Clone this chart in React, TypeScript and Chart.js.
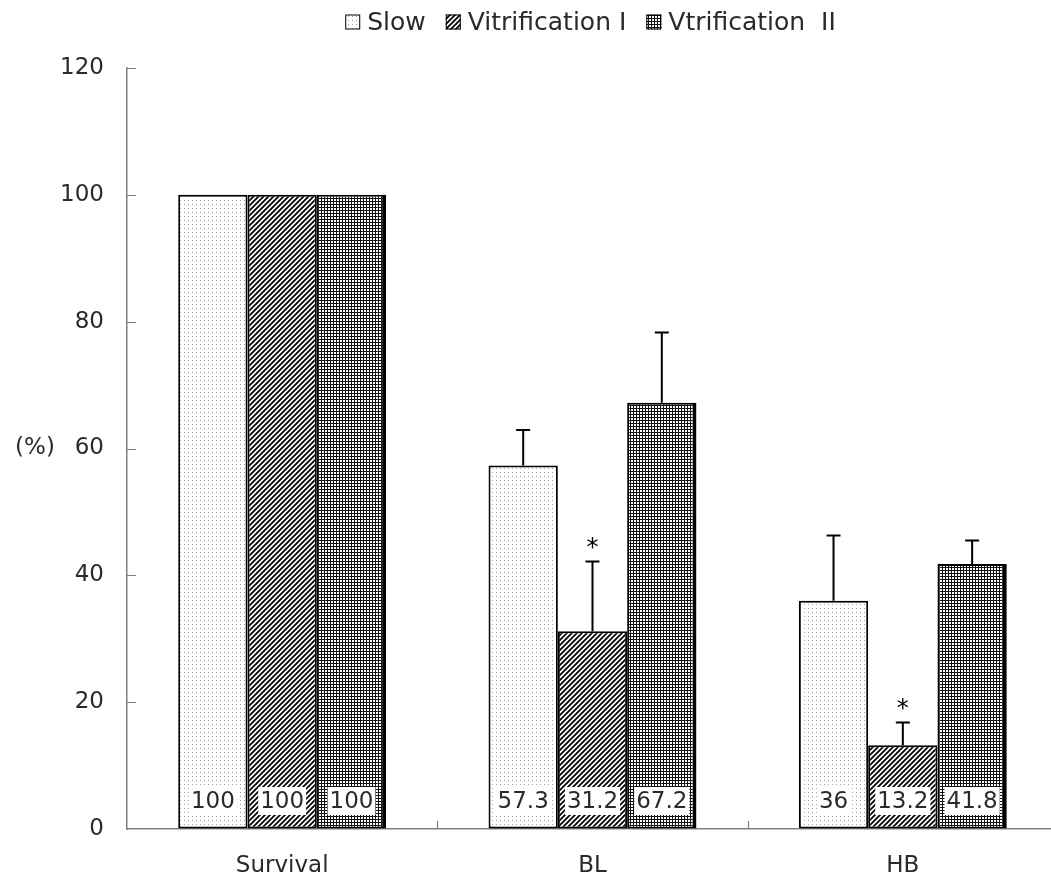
import React, { useEffect, useRef } from "react";
import { Chart, registerables } from "chart.js";

Chart.register(...registerables);

const categories = ["Survival", "BL", "HB"];
const seriesNames = ["Slow", "Vitrification I", "Vtrification  II"];
const slowValues = [100, 57.3, 36];
const vit1Values = [100, 31.2, 13.2];
const vit2Values = [100, 67.2, 41.8];
const slowErr = [0, 5.6, 10.3];
const vit1Err = [0, 11.0, 3.6];
const vit2Err = [0, 11.1, 3.7];
const vit1Sig = ["", "*", "*"];
const yMin = 0;
const yMax = 120;
const yStep = 20;
const yTitle = "(%)";

const FONT = "'DejaVu Sans', sans-serif";
const TEXT = "#2a2a2a";
const AXIS = "#808080";

function makeTile(size: number, draw: (c: CanvasRenderingContext2D) => void): CanvasPattern {
  const cv = document.createElement("canvas");
  cv.width = size;
  cv.height = size;
  const c = cv.getContext("2d")!;
  c.fillStyle = "#fff";
  c.fillRect(0, 0, size, size);
  draw(c);
  return c.createPattern(cv, "repeat")!;
}

export default function App() {
  const ref = useRef<HTMLCanvasElement | null>(null);
  useEffect(() => {
    const canvas = ref.current!;
    const dots = makeTile(4, (c) => {
      c.fillStyle = "#a0a0a0";
      c.fillRect(0, 0, 1, 1);
    });
    const diag = makeTile(5, (c) => {
      c.strokeStyle = "#000";
      c.lineWidth = 1.8;
      c.beginPath();
      c.moveTo(-1, 6); c.lineTo(6, -1);
      c.moveTo(-6, 6); c.lineTo(1, -1);
      c.moveTo(4, 6); c.lineTo(11, -1);
      c.stroke();
    });
    const grid = makeTile(3, (c) => {
      c.fillStyle = "#111";
      c.fillRect(0, 0, 3, 1);
      c.fillRect(0, 0, 1, 3);
    });
    const patterns = [dots, diag, grid];
    const errs = [slowErr, vit1Err, vit2Err];
    const sigs = [["", "", ""], vit1Sig, ["", "", ""]];

    const overlay = {
      id: "overlay",
      afterDatasetsDraw(chart: any) {
        const ctx: CanvasRenderingContext2D = chart.ctx;
        const ys = chart.scales.y;
        const bottom = chart.chartArea.bottom;
        ctx.save();
        chart.data.datasets.forEach((ds: any, i: number) => {
          const meta = chart.getDatasetMeta(i);
          meta.data.forEach((bar: any, j: number) => {
            const v = ds.data[j];
            const e = errs[i][j];
            ctx.strokeStyle = "#000";
            ctx.lineWidth = 2;
            let topY = bar.y;
            if (e > 0) {
              const t = ys.getPixelForValue(v + e);
              topY = t;
              ctx.beginPath();
              ctx.moveTo(bar.x, bar.y);
              ctx.lineTo(bar.x, t);
              ctx.moveTo(bar.x - 7, t);
              ctx.lineTo(bar.x + 7, t);
              ctx.stroke();
            }
            const s = sigs[i][j];
            if (s) {
              ctx.fillStyle = "#000";
              ctx.font = `24px ${FONT}`;
              ctx.textAlign = "center";
              ctx.textBaseline = "middle";
              ctx.fillText(s, bar.x, topY - 13);
            }
            const label = String(v);
            ctx.font = `23px ${FONT}`;
            const w = ctx.measureText(label).width;
            const cy = bottom - 28;
            ctx.fillStyle = "#fff";
            ctx.fillRect(bar.x - w / 2 - 2, cy - 14, w + 4, 28);
            ctx.fillStyle = TEXT;
            ctx.textAlign = "center";
            ctx.textBaseline = "middle";
            ctx.fillText(label, bar.x, cy + 1);
          });
        });
        ctx.restore();
      },
      afterDraw(chart: any) {
        const ctx: CanvasRenderingContext2D = chart.ctx;
        const area = chart.chartArea;
        const ys = chart.scales.y;
        const xs = chart.scales.x;
        ctx.save();
        ctx.strokeStyle = AXIS;
        ctx.lineWidth = 1.2;
        ctx.beginPath();
        for (let v = yMin + yStep; v <= yMax; v += yStep) {
          const py = Math.round(ys.getPixelForValue(v)) + 0.5;
          ctx.moveTo(area.left, py);
          ctx.lineTo(area.left + 9, py);
        }
        const n = categories.length;
        for (let k = 1; k < n; k++) {
          const px = Math.round((xs.getPixelForValue(k - 1) + xs.getPixelForValue(k)) / 2) + 0.5;
          ctx.moveTo(px, area.bottom);
          ctx.lineTo(px, area.bottom - 8);
        }
        ctx.stroke();
        ctx.fillStyle = TEXT;
        ctx.font = `23px ${FONT}`;
        ctx.textAlign = "center";
        ctx.textBaseline = "middle";
        ctx.fillText(yTitle, 35, (area.top + area.bottom) / 2);
        ctx.font = `25px ${FONT}`;
        const box = 15;
        const gapBox = 7;
        const gapItem = 20;
        const widths = seriesNames.map((s) => ctx.measureText(s).width);
        let total = 0;
        widths.forEach((w, i) => {
          total += box + gapBox + w + (i < widths.length - 1 ? gapItem : 0);
        });
        let lx = (area.left + area.right) / 2 - 2 - total / 2;
        const ly = 22;
        seriesNames.forEach((s, i) => {
          ctx.fillStyle = patterns[i];
          ctx.fillRect(lx, ly - box / 2, box, box);
          ctx.strokeStyle = "#000";
          ctx.lineWidth = 1;
          ctx.strokeRect(lx + 0.5, ly - box / 2 + 0.5, box - 1, box - 1);
          ctx.fillStyle = TEXT;
          ctx.textAlign = "left";
          ctx.textBaseline = "middle";
          ctx.fillText(s, lx + box + gapBox, ly + 1);
          lx += box + gapBox + widths[i] + gapItem;
        });
        ctx.restore();
      },
    };

    const values = [slowValues, vit1Values, vit2Values];
    const chart = new Chart(canvas, {
      type: "bar",
      data: {
        labels: categories,
        datasets: seriesNames.map((name, i) => ({
          label: name,
          data: values[i],
          backgroundColor: patterns[i],
          borderColor: "#000",
          borderWidth: i === 2 ? { top: 2, left: 2, bottom: 2, right: 4 } : 2,
          borderSkipped: false,
          categoryPercentage: 0.67,
          barPercentage: 1.0,
        })),
      },
      options: {
        animation: false,
        responsive: false,
        devicePixelRatio: 1,
        layout: { padding: { top: 68, right: 2, left: 0, bottom: 0 } },
        plugins: { legend: { display: false }, tooltip: { enabled: false } },
        scales: {
          x: {
            grid: { display: false },
            border: { display: true, color: AXIS, width: 1.5 },
            ticks: { color: TEXT, font: { family: FONT, size: 23 }, padding: 15 },
            afterFit(scale: any) {
              scale.height = 55;
            },
          },
          y: {
            min: yMin,
            max: yMax,
            grid: { display: true, drawOnChartArea: false, drawTicks: false },
            border: { display: true, color: AXIS, width: 1.5 },
            ticks: { stepSize: yStep, color: TEXT, font: { family: FONT, size: 23 }, padding: 23 },
            afterFit(scale: any) {
              scale.width = 127;
            },
          },
        },
      } as any,
      plugins: [overlay],
    });
    return () => chart.destroy();
  }, []);

  return (
    <div style={{ position: "absolute", left: 0, top: 0, width: 1051, height: 884, overflow: "hidden", background: "#fff" }}>
      <canvas ref={ref} width={1060} height={884} style={{ width: 1060, height: 884, display: "block" }} />
    </div>
  );
}
